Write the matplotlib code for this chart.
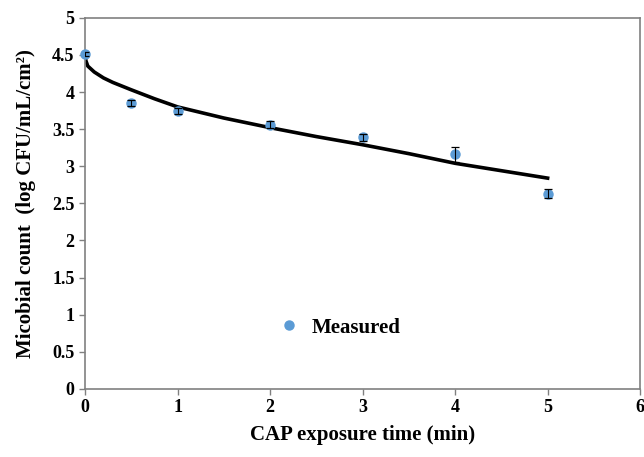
import numpy as np
import matplotlib.pyplot as plt
from matplotlib.lines import Line2D

# measured points
t_meas = [0, 0.5, 1, 2, 3, 4, 5]
count_meas = [4.51, 3.85, 3.75, 3.56, 3.39, 3.16, 2.63]
count_err = [0.03, 0.04, 0.04, 0.045, 0.045, 0.1, 0.06]

# fitted curve
t_fit = [0, 0.01, 0.03, 0.1, 0.2, 0.3, 0.5, 0.75, 1, 1.5, 2, 2.5, 3, 3.5, 4, 4.5, 5]
count_fit = [4.50, 4.42, 4.35, 4.27, 4.19, 4.13, 4.03, 3.91, 3.80,
             3.65, 3.52, 3.40, 3.29, 3.17, 3.04, 2.94, 2.84]

plt.rcParams['font.family'] = 'Liberation Serif'
plt.rcParams['font.weight'] = 'bold'

fig = plt.figure(figsize=(6.44, 4.57), dpi=100)
ax = fig.add_axes([0.132, 0.149, 0.862, 0.812])

ax.plot(t_fit, count_fit, color='black', lw=2.6, zorder=2)
ax.plot(t_meas, count_meas, 'o', color='#5b9bd5', ms=6.5, zorder=3, clip_on=False)
ax.errorbar(t_meas, count_meas, yerr=count_err, fmt='none',
            ecolor='black', elinewidth=0.8, capsize=3, capthick=0.9, zorder=4)

ax.set_xlim(0, 6)
ax.set_ylim(0, 5)
ax.set_xticks(range(7))
ax.set_yticks(np.arange(0, 5.01, 0.5))
ax.set_yticklabels(['0', '0.5', '1', '1.5', '2', '2.5', '3', '3.5', '4', '4.5', '5'])

for s in ax.spines.values():
    s.set_color('#808080')
    s.set_linewidth(1.2)
ax.tick_params(colors='#808080', labelcolor='black', labelsize=13, length=4, width=1)

ax.set_xlabel('CAP exposure time (min)', fontsize=15, fontweight='bold', labelpad=6)
ax.set_ylabel('Micobial count  (log CFU/mL/cm²)', fontsize=15, fontweight='bold', labelpad=12)

h = Line2D([], [], marker='o', ls='none', color='#5b9bd5', ms=6.5)
ax.legend([h], ['Measured'], loc='center', bbox_to_anchor=(0.458, 0.165),
          frameon=False, prop={'size': 15, 'weight': 'bold'},
          handlelength=1.0, handletextpad=0.6)

fig.savefig('out.png', dpi=100)
